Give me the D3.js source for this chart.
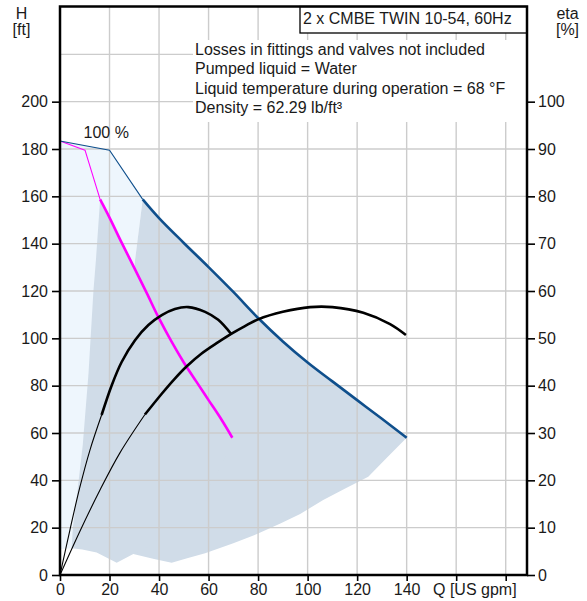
<!DOCTYPE html>
<html><head><meta charset="utf-8">
<script src="https://cdn.jsdelivr.net/npm/d3@7"></script>
<style>
html,body{margin:0;padding:0;background:#fff;}
svg text{font-family:"Liberation Sans",Arial,sans-serif;font-size:16px;fill:#1a1a1a;}
</style></head>
<body><svg id="c" width="587" height="601"></svg>
<script>
// ---------- data ----------
const qTicks = [0,20,40,60,80,100,120,140,160,180];
const qLabels = [0,20,40,60,80,100,120,140];
const hTicks = [0,20,40,60,80,100,120,140,160,180,200];
const hGrid = [20,40,60,80,100,120,140,160,180,200,220];
const etaTicks = [0,10,20,30,40,50,60,70,80,90,100];

// head curves [Q US gpm, H ft]
const headTwinThin = [[0,183.4],[20,179.5],[33.4,158.7]];
const headTwin = [[33.4,158.7],[40,150.8],[50,140.3],[60,130.1],[70,119.6],[80,108.6],[90,98.7],[100,89.8],[110,81.8],[120,73.9],[130,66],[140,58]];
const headSingleThin = [[0,183.4],[10.1,179.5],[16.2,158.7]];
const headSingle = [[16.2,158.7],[20,151],[25,140.2],[30,129.8],[35,119.2],[40,108.4],[45,98.7],[50,89.8],[55,81.8],[60,73.9],[65,66],[69.6,58]];

// efficiency curves [Q, eta %]
const etaSingleThin = [[0,0],[4,9.5],[8,18.5],[12.1,26.4],[16.8,33.8]];
const etaSingle = [[16.8,33.8],[20.9,40.1],[24.9,45.0],[30.3,49.6],[35.7,52.8],[41.1,54.9],[46.4,56.2],[51.8,56.6],[58.6,55.6],[63.9,53.9],[69.3,50.8]];
const etaTwinThin = [[0,0],[8,9.2],[16,17.8],[24.2,25.8],[34.3,33.9]];
const etaTwin = [[34.3,33.9],[41.1,38.3],[46.4,41.5],[51.2,44.1],[57.2,46.8],[63.9,49.2],[69.3,51.0],[74.7,52.6],[80,54.0],[90,55.6],[101,56.6],[110,56.6],[122.5,55.4],[133.3,53.0],[139.7,50.7]];

// operating-range outlines [Q, H]
const singleBottom = [[69.6,58],[66,48],[62,40],[55,30],[48,22],[40,15],[34,11],[29.6,8.9],[22.9,5.2],[14.8,9.5],[9,10.8],[4.7,11.3]];
const singleLeft = [[4.7,11.3],[5.2,20],[7,35],[9.2,55],[11.5,85],[13.5,120],[14.5,133],[16.2,158.7]];
const twinBottom = [[140,58],[132,49.5],[124.5,41.5],[115,36.4],[106.3,31.7],[97,25.8],[89,21.8],[80,17.5],[70,13.4],[58.6,9.2],[51,7],[45.1,5.2],[38,6.8],[29.6,8.9],[20,10.5],[9.4,11.3]];
const twinLeft = [[9.4,11.3],[16,25],[22,55],[26.5,90],[29.2,116],[30.3,133],[33.4,158.7]];
const lightOuter = [[0,11],[0,183.4],[20,179.5],[33.4,158.7]];

const infoLines = ["Losses in fittings and valves not included","Pumped liquid = Water","Liquid temperature during operation = 68 °F","Density = 62.29 lb/ft³"];
const title = "2 x CMBE TWIN 10-54, 60Hz";

// ---------- layout ----------
const L=60, R=527, T=6.5, B=575;
const x = d3.scaleLinear().domain([0,188.6]).range([L,R]);
const y = d3.scaleLinear().domain([0,240]).range([B,T+0.5]);
const yEta = d3.scaleLinear().domain([0,120]).range([B,T+0.5]);

const svg = d3.select("#c");
const poly = d3.line().x(d=>x(d[0])).y(d=>y(d[1]));
const hLine = d3.line().x(d=>x(d[0])).y(d=>y(d[1])).curve(d3.curveCatmullRom.alpha(0.5));
const eLine = d3.line().x(d=>x(d[0])).y(d=>yEta(d[1])).curve(d3.curveCatmullRom.alpha(0.5));

// fills
const lightPoly = lightOuter.concat(twinLeft.slice().reverse(), [[4.7,11.3]]);
svg.append("path").attr("d",poly(lightPoly)+"Z").attr("fill","#eef6fd");
const twinPoly = headTwin.concat(twinBottom.slice(1), twinLeft.slice(1));
svg.append("path").attr("d",poly(twinPoly)+"Z").attr("fill","#d0dce8");
const singlePoly = headSingle.concat(singleBottom.slice(1), singleLeft.slice(1));
svg.append("path").attr("d",poly(singlePoly)+"Z").attr("fill","#d0dce8");

// grid
const grid = svg.append("g").attr("stroke","#cccccc").attr("stroke-width",1.4);
grid.selectAll("line.v").data(qTicks.slice(1)).join("line")
  .attr("x1",d=>x(d)).attr("x2",d=>x(d)).attr("y1",T).attr("y2",B);
grid.selectAll("line.h").data(hGrid).join("line")
  .attr("x1",L).attr("x2",R).attr("y1",d=>y(d)).attr("y2",d=>y(d));

// info text box
svg.append("rect").attr("x",193).attr("y",40).attr("width",R-193).attr("height",82).attr("fill","#fff");
svg.selectAll("text.info").data(infoLines).join("text")
  .attr("x",195).attr("y",(d,i)=>54.5+i*19.6).text(d=>d);

// curves
svg.append("path").attr("d",poly(headSingleThin)).attr("fill","none").attr("stroke","#ff00ff").attr("stroke-width",1.1).attr("stroke-linejoin","round");
svg.append("path").attr("d",hLine(headSingle)).attr("fill","none").attr("stroke","#ff00ff").attr("stroke-width",2.6);
svg.append("path").attr("d",poly(headTwinThin)).attr("fill","none").attr("stroke","#0f4f8c").attr("stroke-width",1.1);
svg.append("path").attr("d",hLine(headTwin)).attr("fill","none").attr("stroke","#0f4f8c").attr("stroke-width",2.6);

svg.append("path").attr("d",eLine(etaSingleThin)).attr("fill","none").attr("stroke","#000").attr("stroke-width",1.1);
svg.append("path").attr("d",eLine(etaSingle)).attr("fill","none").attr("stroke","#000").attr("stroke-width",2.6);
svg.append("path").attr("d",eLine(etaTwinThin)).attr("fill","none").attr("stroke","#000").attr("stroke-width",1.1);
svg.append("path").attr("d",eLine(etaTwin)).attr("fill","none").attr("stroke","#000").attr("stroke-width",2.6);

// header box
svg.append("rect").attr("x",300).attr("y",T).attr("width",R-300).attr("height",26.5)
  .attr("fill","#fff").attr("stroke","#000").attr("stroke-width",1.3);
svg.append("text").attr("x",303).attr("y",23.5).text(title);

// axes
const ax = (g)=>{g.select(".domain").remove(); g.selectAll(".tick line").attr("stroke","#000").attr("stroke-width",1.6); g.selectAll("text").attr("font-size",null).attr("font-family",null).attr("fill",null);};
svg.append("g").attr("transform",`translate(${L},0)`)
  .call(d3.axisLeft(y).tickValues(hTicks).tickSize(8).tickPadding(4).tickFormat(d3.format("d"))).call(ax);
svg.append("g").attr("transform",`translate(${R},0)`)
  .call(d3.axisRight(yEta).tickValues(etaTicks).tickSize(8).tickPadding(3).tickFormat(d3.format("d"))).call(ax);
svg.append("g").attr("transform",`translate(0,${B})`)
  .call(d3.axisBottom(x).tickValues(qTicks).tickSize(6).tickPadding(3).tickFormat(d=>qLabels.includes(d)?d:"")).call(ax);

// frame
svg.append("rect").attr("x",L).attr("y",T).attr("width",R-L).attr("height",B-T)
  .attr("fill","none").attr("stroke","#000").attr("stroke-width",2.5);

// labels
svg.append("text").attr("x",433).attr("y",595).text("Q [US gpm]");
svg.append("text").attr("x",21.5).attr("y",18.5).attr("text-anchor","middle").text("H");
svg.append("text").attr("x",21.5).attr("y",34.5).attr("text-anchor","middle").text("[ft]");
svg.append("text").attr("x",567.5).attr("y",19).attr("text-anchor","middle").text("eta");
svg.append("text").attr("x",567.5).attr("y",35).attr("text-anchor","middle").text("[%]");
svg.append("text").attr("x",83.5).attr("y",138).text("100 %");
</script></body></html>
